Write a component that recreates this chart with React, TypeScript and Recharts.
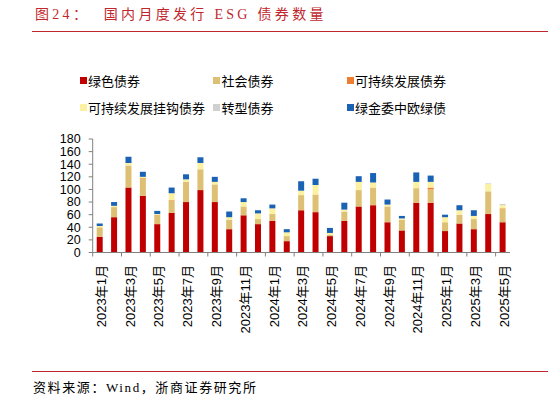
import React from "react";
import { BarChart, Bar, XAxis, YAxis } from "recharts";

const months = [
  "2023年1月", "2023年2月", "2023年3月", "2023年4月", "2023年5月", "2023年6月",
  "2023年7月", "2023年8月", "2023年9月", "2023年10月", "2023年11月", "2023年12月",
  "2024年1月", "2024年2月", "2024年3月", "2024年4月", "2024年5月", "2024年6月",
  "2024年7月", "2024年8月", "2024年9月", "2024年10月", "2024年11月", "2024年12月",
  "2025年1月", "2025年2月", "2025年3月", "2025年4月", "2025年5月",
];

const green = [25, 56, 103, 90, 45, 63, 80, 99, 80, 37, 59, 45, 50, 18, 67, 64, 26, 50, 73, 75, 48, 35, 79, 79, 34, 46, 37, 61, 48];
const social = [15, 16, 35, 27, 15, 19, 32, 33, 28, 15, 14, 8, 11, 8, 24, 28, 2, 15, 26, 28, 25, 17, 23, 21, 14, 14, 16, 36, 21];
const sustainable = [0, 0, 0, 1, 0, 1, 0, 0, 0, 0, 0, 0, 0, 0, 0, 0, 0, 0, 0, 0, 0, 0, 0, 3, 0, 0, 0, 0, 1];
const linked = [2, 2, 4, 2, 1, 11, 4, 10, 4, 4, 7, 9, 9, 6, 7, 15, 3, 3, 13, 8, 3, 2, 10, 9, 8, 7, 5, 12, 5];
const transition = [0, 0, 0, 0, 0, 0, 0, 0, 0, 0, 0, 0, 0, 0, 0, 0, 0, 0, 0, 0, 0, 0, 0, 0, 0, 0, 0, 1, 2];
const euGreen = [4, 6, 10, 8, 5, 9, 8, 9, 8, 9, 6, 5, 6, 5, 15, 10, 8, 11, 9, 15, 8, 4, 15, 10, 4, 8, 9, 0, 0];

const yTicks = [0, 20, 40, 60, 80, 100, 120, 140, 160, 180];

const seriesNames = ["绿色债券", "社会债券", "可持续发展债券", "可持续发展挂钩债券", "转型债券", "绿金委中欧绿债"];
const seriesKeys = ["green", "social", "sustainable", "linked", "transition", "euGreen"];
const seriesColors = ["#C00000", "#DDC073", "#ED7D31", "#FBF1A0", "#D0D0D0", "#1A62B4"];

const data = months.map((m, i) => ({
  month: m,
  green: green[i],
  social: social[i],
  sustainable: sustainable[i],
  linked: linked[i],
  transition: transition[i],
  euGreen: euGreen[i],
}));

const W = 548;
const H = 402;
const MARGIN = { top: 139, right: 38, left: 42.7, bottom: 69.5 };
const Y_W = 50;
const X_H = 80;
const PLOT_W = W - MARGIN.left - Y_W - MARGIN.right;
const HALF_BAND = PLOT_W / months.length / 2;

const SANS = '"Liberation Sans", Arial, "Noto Sans CJK SC", sans-serif';
const SERIF = '"Liberation Serif", "Times New Roman", "Noto Sans CJK SC", serif';
const RED = "#C0272D";

const XTick = (props: any) => {
  const { x, y, payload } = props;
  const tx = x + 1.5;
  const ty = y + 12.5;
  return (
    <g>
      <line x1={x - HALF_BAND} y1={y} x2={x - HALF_BAND} y2={y + 4} stroke="#808080" strokeWidth={1} />
      <text
        x={tx}
        y={ty}
        transform={`rotate(-90, ${tx}, ${ty})`}
        textAnchor="end"
        dominantBaseline="central"
        fontSize={13}
        fill="#000"
        fontFamily={SANS}
      >
        {payload.value}
      </text>
    </g>
  );
};

const legendCols = [79.5, 213, 346.5];
const legendRows = [80, 107.5];

export default function App() {
  return (
    <div style={{ position: "absolute", left: 0, top: 0, width: W, height: H, background: "#fff", fontFamily: SANS }}>
      <div
        style={{
          position: "absolute",
          left: 35,
          top: 5,
          fontSize: 14,
          lineHeight: "19px",
          letterSpacing: 3.3,
          color: RED,
          fontFamily: SERIF,
          whiteSpace: "nowrap",
        }}
      >
        图24：&nbsp;&nbsp;国内月度发行 ESG 债券数量
      </div>
      <div style={{ position: "absolute", left: 32, top: 30.5, width: W - 32, height: 1, background: RED }} />

      {seriesNames.map((name, i) => {
        const cx = legendCols[i % 3];
        const cy = legendRows[Math.floor(i / 3)];
        return (
          <div key={name} style={{ position: "absolute", left: cx, top: cy - 9, height: 18, display: "flex", alignItems: "center", whiteSpace: "nowrap" }}>
            <div style={{ width: 7, height: 7, background: seriesColors[i], marginRight: 1.5 }} />
            <span style={{ fontSize: 13, color: "#000", fontFamily: SANS }}>{name}</span>
          </div>
        );
      })}

      <div style={{ position: "absolute", left: 0, top: 0 }}>
        <BarChart width={W} height={H} data={data} margin={MARGIN} barSize={6}>
          <XAxis
            dataKey="month"
            interval={1}
            tickLine={false}
            tickSize={0}
            tickMargin={0}
            height={X_H}
            axisLine={{ stroke: "#808080", strokeWidth: 1.2 }}
            tick={<XTick />}
          />
          <YAxis
            width={Y_W}
            domain={[0, 180]}
            ticks={yTicks}
            interval={0}
            tickSize={4}
            tickMargin={8}
            axisLine={{ stroke: "#808080" }}
            tickLine={{ stroke: "#808080" }}
            tick={{ fontSize: 12.5, fill: "#000", fontFamily: SANS }}
          />
          {seriesKeys.map((k, i) => (
            <Bar key={k} dataKey={k} name={seriesNames[i]} stackId="a" fill={seriesColors[i]} isAnimationActive={false} />
          ))}
        </BarChart>
      </div>

      <div style={{ position: "absolute", left: 32, top: 370.5, width: W - 32, height: 1, background: RED }} />
      <div
        style={{
          position: "absolute",
          left: 33,
          top: 379,
          fontSize: 13,
          lineHeight: "18px",
          letterSpacing: 1.6,
          color: "#000",
          fontFamily: SERIF,
          whiteSpace: "nowrap",
        }}
      >
        资料来源：Wind，浙商证券研究所
      </div>
    </div>
  );
}
